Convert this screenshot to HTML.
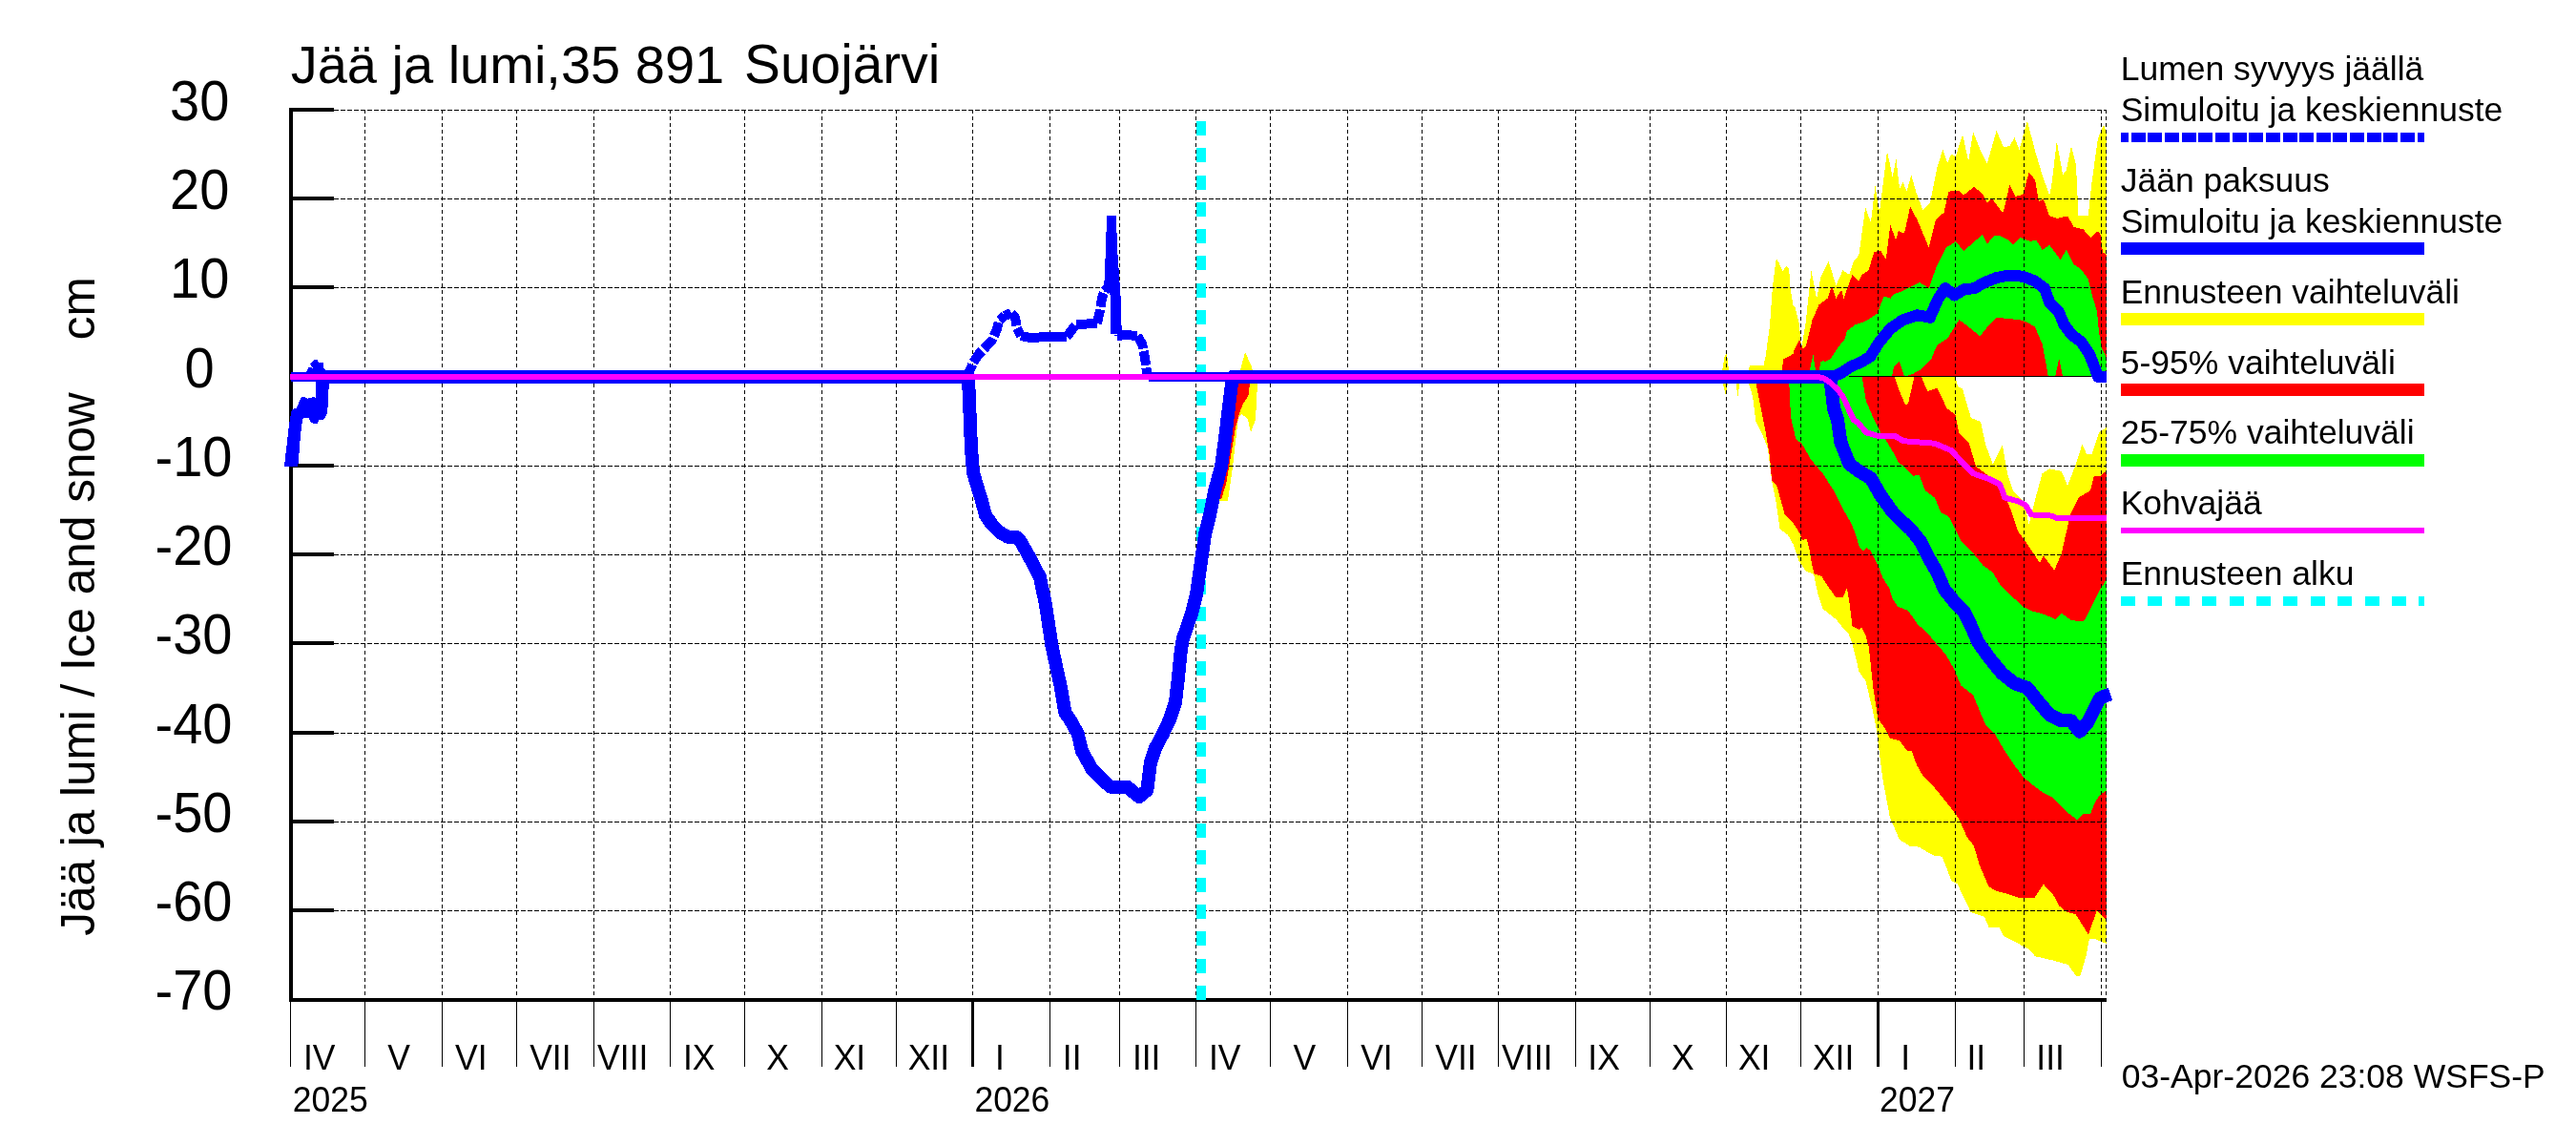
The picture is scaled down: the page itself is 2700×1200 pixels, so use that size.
<!DOCTYPE html>
<html><head><meta charset="utf-8"><style>
html,body{margin:0;padding:0;background:#fff;width:2700px;height:1200px;overflow:hidden}
svg{display:block;will-change:transform}
text{font-family:"Liberation Sans", sans-serif;fill:#000}
</style></head><body>
<svg width="2700" height="1200" viewBox="0 0 2700 1200">
<g shape-rendering="crispEdges"><polygon points="1290,402 1296,401 1301,384 1305,369 1312,384 1314,395 1318,402 1316,440 1311,453 1307.6,438.6 1301,434 1298,437 1292,489 1287,525 1278,525 1285,470" fill="#ffff00"/><polygon points="1290,396 1310,402 1308.4,415 1303,423 1299.7,431 1295,448 1285.6,505 1280,523.5 1275,520 1285,460" fill="#ff0000"/><polygon points="1803.9,395 1807.6,373.6 1809.8,369.1 1812.8,395 1829.8,395 1834.3,383.2 1848.4,383.2 1850.6,373.6 1855,341 1858,299.4 1861.7,271.2 1864.7,275.6 1868.4,284.5 1872.1,278.6 1875.1,281.5 1876.6,302.3 1879.6,320.1 1881.4,321.8 1885.9,340 1888.2,365 1892.7,337.7 1898.4,283.2 1904.1,312.7 1908.6,290 1916.6,274.1 1924.5,299.1 1931.4,283.2 1938.2,287.7 1942.7,274.1 1948.4,267.3 1955.2,217.3 1960.9,233.2 1965.5,194.5 1970,221.8 1978,158.2 1983.6,185.5 1987.4,166.4 1991.1,198.2 1994.8,190.9 1998.4,200.7 2003.3,183.6 2008.2,200.7 2015.5,220.2 2022.9,212.9 2030.2,176.2 2036.3,156.7 2041.2,171.3 2044.9,161.6 2049.8,164 2057.1,140.8 2063.2,168.9 2068.1,138.3 2075.5,156.7 2082.8,171.3 2092.6,137.1 2100.1,154.2 2106.4,153 2111.5,144.1 2116.5,156.8 2124.9,126.4 2133,158 2140.6,183.4 2148.2,204.9 2150.7,191 2155.8,147.9 2162.1,183.4 2165.9,178.3 2170.9,153 2176,173.2 2178.5,226.4 2188.7,226.4 2192.5,191 2198.8,145.4 2205.1,130.2 2207.6,139 2207.6,395" fill="#ffff00"/><polygon points="1803.6,395 1808.9,413.9 1812,395" fill="#ffff00"/><polygon points="1818.3,395 1821.5,414.9 1824.6,395" fill="#ffff00"/><polygon points="1830.9,395 2049.4,395 2052,405.2 2057,407.7 2065.9,438.1 2076,441.9 2081.1,466 2088.7,486.2 2098.8,466 2104,496 2110,514 2121.5,526.7 2126.6,549.5 2132.9,524.2 2140.5,496.3 2148.1,491.3 2160.8,493.8 2167.1,509 2175.9,486.2 2182.3,466 2187.3,476.1 2192.4,476.1 2200,453.3 2207.6,448.2 2207.6,988.9 2196.1,984.2 2189.8,984.2 2186.7,1001.5 2180.4,1022.7 2175.7,1022.7 2167.8,1011 2150.5,1006.2 2133.2,1002.3 2126.9,995.2 2112.8,987.4 2100.2,981.1 2095.5,972.4 2084.5,971.6 2079.7,960.6 2065.6,955.9 2051.4,926 2045.2,922.9 2035.7,897.7 2027.9,897 2020,893 2011.4,887.7 2001.3,886.5 1991.1,880.1 1981,857.3 1973.4,816.8 1967.1,766.2 1962,740.9 1955.4,713.6 1948.4,703.9 1945.6,691.3 1941.5,674.5 1937.3,663.4 1930.3,656.4 1924.7,649.4 1917.7,643.8 1910.7,638.2 1905.8,624.2 1901,602 1892.6,598.4 1885.6,587.9 1880,571.2 1873.9,560.7 1865.5,554.4 1861.3,525 1857.1,504 1852.9,469.5 1846.6,453.7 1840.3,441.2 1837.2,416 1830.9,395" fill="#ffff00"/><polygon points="1866.9,395 1869.2,376.5 1875.1,373.6 1879.6,370.6 1880,368 1886,356 1890,366 1893,362 1899.5,335.5 1906.4,319.5 1915.5,312.7 1920,300.2 1924.5,312.7 1930.2,303.6 1932.5,312.7 1941.6,287.7 1948.4,294.5 1951.8,287.7 1958.6,283.2 1964.3,263.9 1971.1,262.7 1976.8,271.8 1981.4,235.5 1987,251.4 1989.9,242.2 1996,244.7 2002.1,216.6 2009.4,230 2021.7,259.4 2029,230 2037.6,222.7 2042.4,200.7 2053.4,199.5 2058.3,204.3 2069.3,195.8 2077.9,203.1 2082.8,212.9 2087.7,208 2098.7,222.7 2100.1,221.3 2106.4,193.5 2112.7,206.1 2120.3,203.6 2126.6,180.8 2133,188.4 2136.8,211.2 2141.8,208.7 2148.2,226.4 2155.8,228.9 2167.2,226.4 2173.5,237.8 2183.6,240.3 2191.2,249.2 2197.5,242.8 2201.3,244.1 2203.9,264.4 2207.6,266.9 2207.6,395" fill="#ff0000"/><polygon points="1839.3,395 1986,395 1991,410 1997,424 2000,423 2006.4,395 2014,395 2020.3,410.3 2030.4,406.5 2040.6,428 2049.4,434.3 2053.2,453.3 2063.4,463.4 2071,488.7 2081.1,496.3 2093.7,506.5 2101.3,519.1 2107.6,534.3 2115.2,557 2122.8,567.2 2132.9,582.4 2138,590 2141.8,582.4 2153.2,597.6 2160.8,579.9 2167.1,552 2170.9,536.8 2178.5,521.6 2191.1,514.1 2194.9,498.9 2201.3,498.9 2207.6,493.8 2207.6,963.8 2197.7,954.3 2189,979.5 2175.7,958.3 2166.2,955.9 2158.4,949.6 2152.1,937.8 2141.9,926.8 2132.4,941 2115.9,941 2104.9,937 2092.3,933.9 2084.5,929.2 2075,907.2 2068.7,886 2061.7,877.3 2053,857.7 2045.4,847.6 2035.3,834.9 2025.1,822.3 2015,812.2 2008.9,801.6 2003.8,786.5 1998.7,786.5 1991.1,776.3 1981,773.8 1975.9,763.7 1968.4,753.5 1963.3,720.6 1958.9,678.7 1955.4,666.1 1951.2,657.8 1948.4,659.9 1941.5,656.4 1938.7,632.6 1935.9,615.9 1931.7,626.3 1924,625.6 1914.9,613.1 1909.3,604 1901.6,601.2 1898.9,590.7 1896.1,574 1893.3,564.2 1889.1,566.3 1887,560 1880.2,549.2 1870.8,539.7 1862.4,509.3 1857.1,504 1855,479 1850.8,453.7 1844.5,422.3 1839.3,395" fill="#ff0000"/><polygon points="1895,395 1900.5,372.3 1904,395 1906.2,395 1908,379.7 1910.6,378 1913.2,378.8 1918.4,376.2 1923.7,368.3 1928,362.2 1933.3,356.1 1935.9,346.8 1945,340 1953,337.7 1960.9,333.2 1967.7,328.6 1974.5,310.5 1981.4,312.7 1985,308.3 1992.3,305.8 2002.1,300.9 2011.9,296 2021.7,302.1 2029,281.3 2040,259.4 2049.8,253.2 2058.3,263 2068.1,254.4 2077.9,245.9 2082.8,255.7 2090.1,247.1 2095,246.6 2105.1,251.7 2110.2,256.8 2117.8,249.2 2127.9,253 2134.2,251.7 2140.6,261.8 2148.2,256.8 2159.6,272 2165.9,261.8 2173.5,277 2181.1,282.1 2188.7,292.2 2191,301.5 2193,310 2198,326.6 2200,349 2203.5,365.8 2207.6,374 2207.6,395" fill="#00ff00"/><polygon points="1875,395 1951.6,395 1955.9,420.3 1963.5,438 1972,455 1976,460 1985,475 1990,485 1995,488 2005.1,498.9 2011.5,497.6 2017.8,514.1 2027.9,521.6 2034.2,536.8 2043.1,541.9 2049.4,554.6 2055.8,567.2 2065.9,577.3 2078.5,592.5 2088.7,600.1 2096.3,612.8 2106.4,622.9 2120.3,635.6 2130.4,640.6 2140.5,643.2 2154.4,648.9 2160.7,642.5 2170.8,650.1 2183.5,651.4 2186.1,648.2 2193.7,633 2201.3,617.8 2207.6,607.7 2207.6,828.8 2201.3,832.7 2196.2,840.3 2191.1,852.9 2183.5,852.9 2177.2,859.3 2165.8,850.4 2158.2,842.8 2150.6,835.2 2140.4,830.1 2130.3,822.5 2121.4,814.9 2111.2,802 2101.1,786.8 2091,769.1 2080.8,759 2068.2,728.6 2055.5,718.5 2047.9,700.8 2039.1,685.6 2030.2,675.4 2020.3,663.4 2010.2,654.6 2000,640 1988.9,635.5 1983.8,627.9 1980,615.9 1973.6,606.1 1969.4,594.9 1965.2,586.5 1960.3,576.8 1956.1,574 1952.6,577.5 1949.1,574 1944.9,560 1940.8,549.4 1930.6,531.7 1920.5,511.5 1910.4,496.3 1897.7,481.1 1888.6,465 1882.3,460 1877,437 1875,395" fill="#00ff00"/><polygon points="1983,395 1985,384 1991,379 1996,395 2005.8,391.4 2014.3,386.5 2024.1,376.7 2030.2,362 2041.2,354.7 2053.4,335.1 2063.2,342.5 2075.5,352.3 2085.2,340 2092.6,332.7 2105.1,334 2117.8,335.3 2125.4,337.8 2133,342.8 2140.6,360.6 2144.4,380.8 2146.9,395" fill="#ff0000"/><polygon points="2154,395 2158.3,376 2162,395" fill="#ff0000"/></g>
<g shape-rendering="crispEdges"><line x1="350" y1="115.5" x2="2208" y2="115.5" stroke="#000" stroke-width="1" stroke-dasharray="5 2"/><line x1="350" y1="208.5" x2="2208" y2="208.5" stroke="#000" stroke-width="1" stroke-dasharray="5 2"/><line x1="350" y1="301.5" x2="2208" y2="301.5" stroke="#000" stroke-width="1" stroke-dasharray="5 2"/><line x1="350" y1="488.5" x2="2208" y2="488.5" stroke="#000" stroke-width="1" stroke-dasharray="5 2"/><line x1="350" y1="581.5" x2="2208" y2="581.5" stroke="#000" stroke-width="1" stroke-dasharray="5 2"/><line x1="350" y1="674.5" x2="2208" y2="674.5" stroke="#000" stroke-width="1" stroke-dasharray="5 2"/><line x1="350" y1="768.5" x2="2208" y2="768.5" stroke="#000" stroke-width="1" stroke-dasharray="5 2"/><line x1="350" y1="861.5" x2="2208" y2="861.5" stroke="#000" stroke-width="1" stroke-dasharray="5 2"/><line x1="350" y1="954.5" x2="2208" y2="954.5" stroke="#000" stroke-width="1" stroke-dasharray="5 2"/><line x1="304.5" y1="115" x2="304.5" y2="1046" stroke="#000" stroke-width="1" stroke-dasharray="4 3"/><line x1="382.5" y1="115" x2="382.5" y2="1046" stroke="#000" stroke-width="1" stroke-dasharray="4 3"/><line x1="463.5" y1="115" x2="463.5" y2="1046" stroke="#000" stroke-width="1" stroke-dasharray="4 3"/><line x1="541.5" y1="115" x2="541.5" y2="1046" stroke="#000" stroke-width="1" stroke-dasharray="4 3"/><line x1="622.5" y1="115" x2="622.5" y2="1046" stroke="#000" stroke-width="1" stroke-dasharray="4 3"/><line x1="702.5" y1="115" x2="702.5" y2="1046" stroke="#000" stroke-width="1" stroke-dasharray="4 3"/><line x1="780.5" y1="115" x2="780.5" y2="1046" stroke="#000" stroke-width="1" stroke-dasharray="4 3"/><line x1="861.5" y1="115" x2="861.5" y2="1046" stroke="#000" stroke-width="1" stroke-dasharray="4 3"/><line x1="939.5" y1="115" x2="939.5" y2="1046" stroke="#000" stroke-width="1" stroke-dasharray="4 3"/><line x1="1019.5" y1="115" x2="1019.5" y2="1046" stroke="#000" stroke-width="1" stroke-dasharray="4 3"/><line x1="1100.5" y1="115" x2="1100.5" y2="1046" stroke="#000" stroke-width="1" stroke-dasharray="4 3"/><line x1="1173.5" y1="115" x2="1173.5" y2="1046" stroke="#000" stroke-width="1" stroke-dasharray="4 3"/><line x1="1253.5" y1="115" x2="1253.5" y2="1046" stroke="#000" stroke-width="1" stroke-dasharray="4 3"/><line x1="1331.5" y1="115" x2="1331.5" y2="1046" stroke="#000" stroke-width="1" stroke-dasharray="4 3"/><line x1="1412.5" y1="115" x2="1412.5" y2="1046" stroke="#000" stroke-width="1" stroke-dasharray="4 3"/><line x1="1490.5" y1="115" x2="1490.5" y2="1046" stroke="#000" stroke-width="1" stroke-dasharray="4 3"/><line x1="1570.5" y1="115" x2="1570.5" y2="1046" stroke="#000" stroke-width="1" stroke-dasharray="4 3"/><line x1="1651.5" y1="115" x2="1651.5" y2="1046" stroke="#000" stroke-width="1" stroke-dasharray="4 3"/><line x1="1729.5" y1="115" x2="1729.5" y2="1046" stroke="#000" stroke-width="1" stroke-dasharray="4 3"/><line x1="1809.5" y1="115" x2="1809.5" y2="1046" stroke="#000" stroke-width="1" stroke-dasharray="4 3"/><line x1="1887.5" y1="115" x2="1887.5" y2="1046" stroke="#000" stroke-width="1" stroke-dasharray="4 3"/><line x1="1968.5" y1="115" x2="1968.5" y2="1046" stroke="#000" stroke-width="1" stroke-dasharray="4 3"/><line x1="2049.5" y1="115" x2="2049.5" y2="1046" stroke="#000" stroke-width="1" stroke-dasharray="4 3"/><line x1="2121.5" y1="115" x2="2121.5" y2="1046" stroke="#000" stroke-width="1" stroke-dasharray="4 3"/><line x1="2202.5" y1="115" x2="2202.5" y2="1046" stroke="#000" stroke-width="1" stroke-dasharray="4 3"/><line x1="2207.5" y1="115" x2="2207.5" y2="1046" stroke="#000" stroke-width="1" stroke-dasharray="4 3"/></g>
<g shape-rendering="crispEdges"><rect x="303" y="113" width="4" height="937" fill="#000"/><rect x="303" y="1046" width="1905" height="4" fill="#000"/><rect x="304" y="113" width="46" height="4" fill="#000"/><rect x="304" y="206" width="46" height="4" fill="#000"/><rect x="304" y="299" width="46" height="4" fill="#000"/><rect x="304" y="393" width="46" height="4" fill="#000"/><rect x="304" y="486" width="46" height="4" fill="#000"/><rect x="304" y="579" width="46" height="4" fill="#000"/><rect x="304" y="672" width="46" height="4" fill="#000"/><rect x="304" y="766" width="46" height="4" fill="#000"/><rect x="304" y="859" width="46" height="4" fill="#000"/><rect x="304" y="952" width="46" height="4" fill="#000"/><rect x="304" y="1050" width="1" height="68" fill="#000"/><rect x="382" y="1050" width="1" height="68" fill="#000"/><rect x="463" y="1050" width="1" height="68" fill="#000"/><rect x="541" y="1050" width="1" height="68" fill="#000"/><rect x="622" y="1050" width="1" height="68" fill="#000"/><rect x="702" y="1050" width="1" height="68" fill="#000"/><rect x="780" y="1050" width="1" height="68" fill="#000"/><rect x="861" y="1050" width="1" height="68" fill="#000"/><rect x="939" y="1050" width="1" height="68" fill="#000"/><rect x="1018" y="1050" width="3" height="68" fill="#000"/><rect x="1100" y="1050" width="1" height="68" fill="#000"/><rect x="1173" y="1050" width="1" height="68" fill="#000"/><rect x="1253" y="1050" width="1" height="68" fill="#000"/><rect x="1331" y="1050" width="1" height="68" fill="#000"/><rect x="1412" y="1050" width="1" height="68" fill="#000"/><rect x="1490" y="1050" width="1" height="68" fill="#000"/><rect x="1570" y="1050" width="1" height="68" fill="#000"/><rect x="1651" y="1050" width="1" height="68" fill="#000"/><rect x="1729" y="1050" width="1" height="68" fill="#000"/><rect x="1809" y="1050" width="1" height="68" fill="#000"/><rect x="1887" y="1050" width="1" height="68" fill="#000"/><rect x="1967" y="1050" width="3" height="68" fill="#000"/><rect x="2049" y="1050" width="1" height="68" fill="#000"/><rect x="2121" y="1050" width="1" height="68" fill="#000"/><rect x="2202" y="1050" width="1" height="68" fill="#000"/></g>
<g shape-rendering="crispEdges"><rect x="1938" y="394" width="266" height="1" fill="#000"/><line x1="1259" y1="126.9" x2="1259" y2="1048" stroke="#00ffff" stroke-width="10" stroke-dasharray="15 13.31"/><polyline points="305,395 1012,395" fill="none" stroke="#0000ff" stroke-width="10" stroke-linejoin="round"/><polyline points="1012,395 1015,392 1020,380 1026,371 1033,364 1040,356 1045,345 1047,336 1053,331" fill="none" stroke="#0000ff" stroke-width="10" stroke-dasharray="15 2.65" stroke-linejoin="round"/><polyline points="1053,331 1060,328" fill="none" stroke="#0000ff" stroke-width="10" stroke-linejoin="round"/><polyline points="1060,328 1064,333 1066,344 1070,352" fill="none" stroke="#0000ff" stroke-width="10" stroke-dasharray="15 2.65" stroke-linejoin="round"/><polyline points="1070,352 1078,353.7 1118,353" fill="none" stroke="#0000ff" stroke-width="10" stroke-linejoin="round"/><polyline points="1118,353 1124,345 1128,340" fill="none" stroke="#0000ff" stroke-width="10" stroke-dasharray="15 2.65" stroke-linejoin="round"/><polyline points="1128,340 1150,339" fill="none" stroke="#0000ff" stroke-width="10" stroke-linejoin="round"/><polyline points="1150,339 1153,325 1155,312 1158,305 1162,300 1165,285 1168,300 1170,330 1171,352" fill="none" stroke="#0000ff" stroke-width="10" stroke-dasharray="15 2.65" stroke-linejoin="round"/><polyline points="1171,352 1180,351 1192,352" fill="none" stroke="#0000ff" stroke-width="10" stroke-linejoin="round"/><polyline points="1192,352 1197,360 1200,375 1202,390 1204,395" fill="none" stroke="#0000ff" stroke-width="10" stroke-dasharray="15 2.65" stroke-linejoin="round"/><polyline points="1204,395 1920,395" fill="none" stroke="#0000ff" stroke-width="10" stroke-linejoin="round"/><polyline points="1920,395 1930,391 1940,384 1950,380 1960,374 1970,358.2 1981.4,344.5 1994.8,335.1 2009.4,330.3 2022.9,332.7 2031.4,313.1 2038.8,302.1 2048.6,309.5 2058.3,303.4 2069.3,302.1 2080.3,296 2092.6,291.1 2105,288.7 2120.3,289.7 2133,294.7 2143.1,302.3 2148.2,317.5 2158.3,327.7 2163.4,340.3 2171,350.4 2181.1,358 2190,371 2195,384 2198,392 2199,395 2208,395" fill="none" stroke="#0000ff" stroke-width="12" stroke-linejoin="round"/><polygon points="298,489 312,489 313,483 314,467.5 315,456 316,448 317,441 318,438 323,437.5 326,442.4 329,444.4 332.6,444.4 334,440.3 339,440.3 341.7,436 343,432.6 343.8,423.5 344.8,402 345,394 331.2,394 331.2,416.9 328.5,416.1 324.9,417.2 322.2,417.7 319.6,416 316,416 314,420.3 312.8,423 310.7,428 306,429 304,438 303.3,443 302.2,452 301.2,461 300.1,470 299.1,478" fill="#0000ff"/><polygon points="321,390 322,388 323.3,385.2 326,385.2 328,385.7 325.1,381.8 329.3,377.1 332.7,377.1 333.8,379.7 339,380.2 339,385.7 340,386.8 341.1,388 342,390" fill="#0000ff"/><polygon points="1157,306 1159,260 1160,226 1170,226 1171,260 1174.5,310 1175,350 1164,350 1164,310 1162,306" fill="#0000ff"/><polyline points="338,395 1008,395 1015,396 1016,420 1018,470 1020,495 1025,512 1029,525 1033,540 1040,550 1048,558 1057,563 1066,563 1070,568 1078,582 1090,605 1096,634 1102.5,677 1112,721 1116.3,746.8 1122,755 1129.7,769 1134,787 1144.5,806 1156.4,818 1164,824.7 1181.6,824.7 1189,831 1194,835 1202.4,828 1204,814 1206,799 1211,784 1219,769 1226,754 1232,736 1235,710 1238,680 1240,669 1248.7,644 1254,623 1260,581 1263,560 1268,540 1273,515 1280,489 1284,460 1288.4,423 1291,402 1292,395 1918,395 1920,410 1922,428 1926,440 1929.4,463.4 1938.2,486.1 1948.4,493.7 1961,501.3 1971.1,519 1983.8,536.8 1993.9,546.9 2002.6,554.6 2012.7,567.2 2020.3,582.4 2030.4,600.1 2038,617.8 2048.2,630.5 2058.3,640.6 2065.6,655.2 2073.2,673 2085.9,690.6 2098.5,705.8 2111.2,716 2125.2,721.1 2135.3,733.8 2148,749 2160.7,755.3 2170.8,755.3 2179.7,766.7 2188.6,756.6 2196.2,741.4 2201.3,731.3 2212,727.5" fill="none" stroke="#0000ff" stroke-width="14" stroke-linejoin="round"/><polyline points="304,395 1905,395 1912,396.5 1919,401.5 1926,408 1932.4,417 1936,425 1939.4,433 1943,440 1947,442.6 1955.9,453.2 1968.6,457 1986.3,457 1995,462.2 2027.9,464.7 2045.6,472.3 2055.8,483.7 2068.4,496.3 2083.6,501.4 2096.3,507.7 2101.3,521.6 2115.2,525.4 2122.8,529.2 2129.1,539.4 2150.6,540.6 2155.7,543.2 2207.6,543.2" fill="none" stroke="#ff00ff" stroke-width="6" stroke-linejoin="round"/></g>
<g shape-rendering="crispEdges"><line x1="2223" y1="144" x2="2541" y2="144" stroke="#0000ff" stroke-width="10" stroke-dasharray="15 2.65" stroke-dashoffset="7"/><rect x="2223" y="254" width="318" height="13" fill="#0000ff"/><rect x="2223" y="328" width="318" height="13" fill="#ffff00"/><rect x="2223" y="402" width="318" height="13" fill="#ff0000"/><rect x="2223" y="476" width="318" height="13" fill="#00ff00"/><rect x="2223" y="553" width="318" height="6" fill="#ff00ff"/><line x1="2223" y1="630" x2="2541" y2="630" stroke="#00ffff" stroke-width="10" stroke-dasharray="15 13.4"/></g>
<g><text transform="translate(318,1121) scale(1,1.04)" font-size="35.5" text-anchor="start" >IV</text><text transform="translate(406.2,1121) scale(1,1.04)" font-size="35.5" text-anchor="start" >V</text><text transform="translate(477,1121) scale(1,1.04)" font-size="35.5" text-anchor="start" >VI</text><text transform="translate(555.2,1121) scale(1,1.04)" font-size="35.5" text-anchor="start" >VII</text><text transform="translate(626.1,1121) scale(1,1.04)" font-size="35.5" text-anchor="start" >VIII</text><text transform="translate(715.9,1121) scale(1,1.04)" font-size="35.5" text-anchor="start" >IX</text><text transform="translate(803.3,1121) scale(1,1.04)" font-size="35.5" text-anchor="start" >X</text><text transform="translate(873.7,1121) scale(1,1.04)" font-size="35.5" text-anchor="start" >XI</text><text transform="translate(951.7,1121) scale(1,1.04)" font-size="35.5" text-anchor="start" >XII</text><text transform="translate(1042.9,1121) scale(1,1.04)" font-size="35.5" text-anchor="start" >I</text><text transform="translate(1113.8,1121) scale(1,1.04)" font-size="35.5" text-anchor="start" >II</text><text transform="translate(1186.9,1121) scale(1,1.04)" font-size="35.5" text-anchor="start" >III</text><text transform="translate(1267,1121) scale(1,1.04)" font-size="35.5" text-anchor="start" >IV</text><text transform="translate(1355.4,1121) scale(1,1.04)" font-size="35.5" text-anchor="start" >V</text><text transform="translate(1426.2,1121) scale(1,1.04)" font-size="35.5" text-anchor="start" >VI</text><text transform="translate(1504.3,1121) scale(1,1.04)" font-size="35.5" text-anchor="start" >VII</text><text transform="translate(1574.1,1121) scale(1,1.04)" font-size="35.5" text-anchor="start" >VIII</text><text transform="translate(1664.3,1121) scale(1,1.04)" font-size="35.5" text-anchor="start" >IX</text><text transform="translate(1752,1121) scale(1,1.04)" font-size="35.5" text-anchor="start" >X</text><text transform="translate(1821.9,1121) scale(1,1.04)" font-size="35.5" text-anchor="start" >XI</text><text transform="translate(1899.9,1121) scale(1,1.04)" font-size="35.5" text-anchor="start" >XII</text><text transform="translate(1992.2,1121) scale(1,1.04)" font-size="35.5" text-anchor="start" >I</text><text transform="translate(2061.5,1121) scale(1,1.04)" font-size="35.5" text-anchor="start" >II</text><text transform="translate(2134.3,1121) scale(1,1.04)" font-size="35.5" text-anchor="start" >III</text><text transform="translate(306.8,1165) scale(1,1.03)" font-size="35.5" text-anchor="start" >2025</text><text transform="translate(1021.4,1165) scale(1,1.03)" font-size="35.5" text-anchor="start" >2026</text><text transform="translate(1970,1165) scale(1,1.03)" font-size="35.5" text-anchor="start" >2027</text><text transform="translate(162.5,126) scale(1,1.05)" font-size="56" text-anchor="start" >&#160;30</text><text transform="translate(162.5,219.2) scale(1,1.05)" font-size="56" text-anchor="start" >&#160;20</text><text transform="translate(162.5,312.4) scale(1,1.05)" font-size="56" text-anchor="start" >&#160;10</text><text transform="translate(162.5,405.6) scale(1,1.05)" font-size="56" text-anchor="start" >&#160;&#160;0</text><text transform="translate(162.5,498.9) scale(1,1.05)" font-size="56" text-anchor="start" >-10</text><text transform="translate(162.5,592.1) scale(1,1.05)" font-size="56" text-anchor="start" >-20</text><text transform="translate(162.5,685.3) scale(1,1.05)" font-size="56" text-anchor="start" >-30</text><text transform="translate(162.5,778.5) scale(1,1.05)" font-size="56" text-anchor="start" >-40</text><text transform="translate(162.5,871.8) scale(1,1.05)" font-size="56" text-anchor="start" >-50</text><text transform="translate(162.5,965) scale(1,1.05)" font-size="56" text-anchor="start" >-60</text><text transform="translate(162.5,1058.2) scale(1,1.05)" font-size="56" text-anchor="start" >-70</text><text x="304.7" y="87" font-size="56" text-anchor="start" >Jää ja lumi,35 891</text><text x="780.1" y="87" font-size="56.8" text-anchor="start" >Suojärvi</text><text transform="translate(98.8,980.8) rotate(-90)" font-size="49.5" >Jää ja lumi / Ice and snow&#160;&#160;&#160;&#160;cm</text><text x="2222.7" y="84.2" font-size="35.5" text-anchor="start" >Lumen syvyys jäällä</text><text x="2222.7" y="127" font-size="35.5" text-anchor="start" >Simuloitu ja keskiennuste</text><text x="2222.7" y="201" font-size="35.5" text-anchor="start" >Jään paksuus</text><text x="2222.7" y="243.5" font-size="35.5" text-anchor="start" >Simuloitu ja keskiennuste</text><text x="2222.7" y="317.7" font-size="35.5" text-anchor="start" >Ennusteen vaihteluväli</text><text x="2222.7" y="392.2" font-size="35.5" text-anchor="start" >5-95% vaihteluväli</text><text x="2222.7" y="465" font-size="35.5" text-anchor="start" >25-75% vaihteluväli</text><text x="2222.7" y="538.5" font-size="35.5" text-anchor="start" >Kohvajää</text><text x="2222.7" y="612.5" font-size="35.5" text-anchor="start" >Ennusteen alku</text><text x="2223.8" y="1140" font-size="35.5" text-anchor="start" >03-Apr-2026 23:08 WSFS-P</text></g>
</svg></body></html>
